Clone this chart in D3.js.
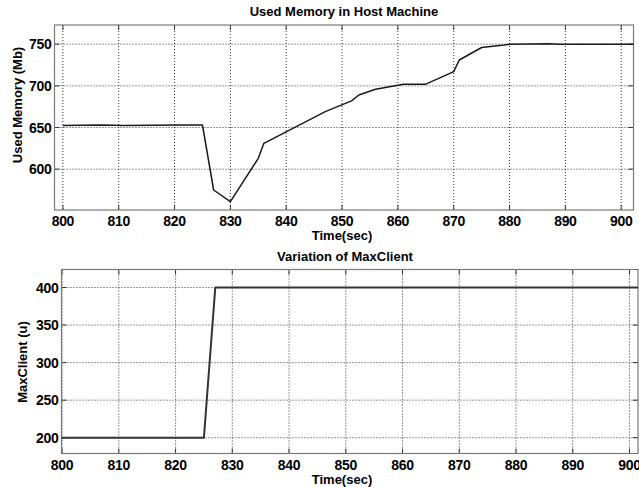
<!DOCTYPE html>
<html><head><meta charset="utf-8">
<script src="https://cdn.jsdelivr.net/npm/d3@7"></script>
<style>
body{margin:0;background:#fff;}
svg text{font-family:"Liberation Sans",Arial,sans-serif;font-weight:bold;fill:#000;}
</style></head>
<body><svg id="c" width="639" height="487"></svg>
<script>
// Top panel: Used Memory in Host Machine
const memTime = [800, 807, 811, 821, 825, 827, 830, 835, 836, 847, 851.7, 853, 856, 861, 865, 870, 871, 875, 879, 880, 887, 889, 902.2];
const memValue = [652.5, 653, 652.5, 653, 653, 575, 561, 613, 631, 669, 682, 689, 696, 702, 702, 717, 731, 746, 749, 750, 750.5, 750, 750];
const memXTicks = [800, 810, 820, 830, 840, 850, 860, 870, 880, 890, 900];
const memYTicks = [600, 650, 700, 750];

// Bottom panel: Variation of MaxClient
const mcTime = [799.9, 825, 827, 901.5];
const mcValue = [200, 200, 400, 400];
const mcXTicks = [800, 810, 820, 830, 840, 850, 860, 870, 880, 890, 900];
const mcYTicks = [200, 250, 300, 350, 400];

const svg = d3.select("#c");

function panel(o){
  const g = svg.append("g");
  const x = d3.scaleLinear().domain(o.xd).range([o.l, o.r]);
  const y = d3.scaleLinear().domain(o.yd).range([o.b, o.t]);
  // grid
  g.selectAll(".gx").data(o.xt).enter().append("line")
    .attr("x1", d=>x(d)).attr("x2", d=>x(d)).attr("y1", o.t).attr("y2", o.b)
    .attr("stroke","#333").attr("stroke-width",1).attr("stroke-dasharray","1,2");
  g.selectAll(".gy").data(o.yt).enter().append("line")
    .attr("y1", d=>y(d)).attr("y2", d=>y(d)).attr("x1", o.l).attr("x2", o.r)
    .attr("stroke","#333").attr("stroke-width",1).attr("stroke-dasharray","1,2");
  // inward ticks
  const tl = 5;
  o.xt.forEach(d=>{
    g.append("line").attr("x1",x(d)).attr("x2",x(d)).attr("y1",o.b).attr("y2",o.b-tl).attr("stroke","#333");
    g.append("line").attr("x1",x(d)).attr("x2",x(d)).attr("y1",o.t).attr("y2",o.t+tl).attr("stroke","#333");
  });
  o.yt.forEach(d=>{
    g.append("line").attr("y1",y(d)).attr("y2",y(d)).attr("x1",o.l).attr("x2",o.l+tl).attr("stroke","#333");
    g.append("line").attr("y1",y(d)).attr("y2",y(d)).attr("x1",o.r).attr("x2",o.r-tl).attr("stroke","#333");
  });
  // frame
  g.append("rect").attr("x",o.l).attr("y",o.t).attr("width",o.r-o.l).attr("height",o.b-o.t)
    .attr("fill","none").attr("stroke","#7a7a7a").attr("stroke-width",1.2);
  // line
  const line = d3.line().x(d=>x(d[0])).y(d=>y(d[1]));
  g.append("path").datum(o.xs.map((t,i)=>[t,o.ys[i]]))
    .attr("d", line).attr("fill","none").attr("stroke",o.lc).attr("stroke-width",o.lw)
    .attr("stroke-linejoin","round");
  // tick labels
  g.selectAll(".xl").data(o.xt).enter().append("text")
    .attr("x", d=>x(d)).attr("y", o.b+16).attr("text-anchor","middle")
    .style("font-size","14px").style("letter-spacing","-0.3px").text(d=>d);
  g.selectAll(".yl").data(o.yt).enter().append("text")
    .attr("x", o.l-3).attr("y", d=>y(d)+5).attr("text-anchor","end")
    .style("font-size","14px").style("letter-spacing","-0.3px").text(d=>d);
  // titles
  g.append("text").attr("x",o.tx).attr("y",o.t-9).attr("text-anchor","middle")
    .style("font-size","13px").text(o.title);
  g.append("text").attr("x",342).attr("y",o.b+o.xlo).attr("text-anchor","middle")
    .style("font-size","13px").text("Time(sec)");
  g.append("text").attr("transform",`translate(${o.yx},${o.ylc}) rotate(-90)`)
    .attr("text-anchor","middle").style("font-size","13px").text(o.ylabel);
}

panel({l:54.5,r:633.5,t:25,b:210,xd:[798.5,902.2],yd:[551,773],
  xt:memXTicks,yt:memYTicks,xs:memTime,ys:memValue,lc:"#1a1a1a",lw:1.5,xlo:30,
  title:"Used Memory in Host Machine",tx:344,ylabel:"Used Memory (Mb)",yx:22,ylc:105});
panel({l:61.5,r:638,t:269.5,b:453.5,xd:[799.9,901.5],yd:[179,424],
  xt:mcXTicks,yt:mcYTicks,xs:mcTime,ys:mcValue,lc:"#333",lw:2,xlo:30.5,
  title:"Variation of MaxClient",tx:345,ylabel:"MaxClient (u)",yx:27,ylc:362});
</script></body></html>
